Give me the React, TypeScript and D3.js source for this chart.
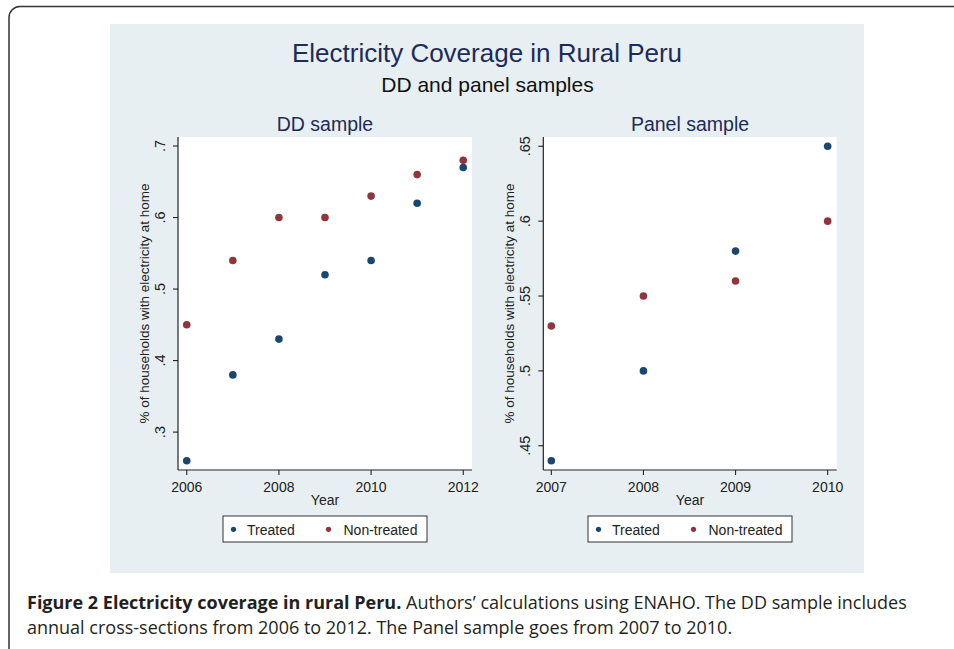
import React from 'react';
import * as d3 from 'd3';

// DD sample (annual cross-sections)
const ddYears = [2006, 2007, 2008, 2009, 2010, 2011, 2012];
const ddTreated = [0.26, 0.38, 0.43, 0.52, 0.54, 0.62, 0.67];
const ddNonTreated = [0.45, 0.54, 0.6, 0.6, 0.63, 0.66, 0.68];
const ddXTicks = [2006, 2008, 2010, 2012];
const ddYTicks = [0.3, 0.4, 0.5, 0.6, 0.7];
const ddYTickLabels = ['.3', '.4', '.5', '.6', '.7'];

// Panel sample
const panelYears = [2007, 2008, 2009, 2010];
const panelTreated = [0.44, 0.5, 0.58, 0.65];
const panelNonTreated = [0.53, 0.55, 0.56, 0.6];
const panelXTicks = [2007, 2008, 2009, 2010];
const panelYTicks = [0.45, 0.5, 0.55, 0.6, 0.65];
const panelYTickLabels = ['.45', '.5', '.55', '.6', '.65'];

const seriesNames = ['Treated', 'Non-treated'];
const seriesColors = ['#1a476f', '#90353b'];

const titleColor = '#1c2b5a';
const font = 'Arial, "Liberation Sans", sans-serif';

interface PanelProps {
  title: string;
  years: number[];
  treated: number[];
  nonTreated: number[];
  xTicks: number[];
  yTicks: number[];
  yTickLabels: string[];
  xDomain: [number, number];
  yDomain: [number, number];
  left: number;
  right: number;
}

const top = 137;
const bottom = 470;

const Panel: React.FC<PanelProps> = (p) => {
  const x = d3.scaleLinear().domain(p.xDomain).range([p.left, p.right]);
  const y = d3.scaleLinear().domain(p.yDomain).range([bottom, top]);
  const cx = (p.left + p.right) / 2;
  const cy = (top + bottom) / 2;
  const legLeft = cx - 102;

  return (
    <g fontFamily={font}>
      <text x={cx} y={131} textAnchor="middle" fontSize={19.5} fill={titleColor}>
        {p.title}
      </text>
      <rect x={p.left} y={top} width={p.right - p.left} height={bottom - top} fill="#fff" />

      {/* y axis */}
      <line x1={p.left} x2={p.left} y1={top} y2={bottom} stroke="#222" strokeWidth={1.2} />
      {p.yTicks.map((t, i) => (
        <g key={`yt-${i}`}>
          <line x1={p.left - 5} x2={p.left} y1={y(t)} y2={y(t)} stroke="#222" strokeWidth={1.1} />
          <text
            transform={`translate(${p.left - 13},${y(t)}) rotate(-90)`}
            textAnchor="middle"
            fontSize={14.5}
            fill="#222"
          >
            {p.yTickLabels[i]}
          </text>
        </g>
      ))}
      <text
        transform={`translate(${p.left - 29},${cy}) rotate(-90)`}
        textAnchor="middle"
        fontSize={13.5}
        fill="#222"
      >
        % of households with electricity at home
      </text>

      {/* x axis */}
      <line x1={p.left} x2={p.right} y1={bottom} y2={bottom} stroke="#222" strokeWidth={1.2} />
      {p.xTicks.map((t) => (
        <g key={`xt-${t}`}>
          <line x1={x(t)} x2={x(t)} y1={bottom} y2={bottom + 5} stroke="#222" strokeWidth={1.1} />
          <text x={x(t)} y={491.5} textAnchor="middle" fontSize={14} fill="#222">
            {t}
          </text>
        </g>
      ))}
      <text x={cx} y={505} textAnchor="middle" fontSize={14} fill="#222">
        Year
      </text>

      {/* points */}
      {[p.treated, p.nonTreated].map((vals, s) =>
        vals.map((v, i) => (
          <circle key={`pt-${s}-${i}`} cx={x(p.years[i])} cy={y(v)} r={3.8} fill={seriesColors[s]} />
        ))
      )}

      {/* legend */}
      <rect x={legLeft} y={516} width={204} height={26} fill="#fff" stroke="#333" strokeWidth={1} />
      {seriesNames.map((name, s) => (
        <g key={`lg-${s}`}>
          <circle cx={legLeft + 10.5 + s * 95} cy={529.3} r={2.6} fill={seriesColors[s]} />
          <text x={legLeft + 24 + s * 96.5} y={535} fontSize={14} fill="#222">
            {name}
          </text>
        </g>
      ))}
    </g>
  );
};

const App: React.FC = () => {
  return (
    <svg
      width={954}
      height={649}
      viewBox="0 0 954 649"
      style={{ position: 'absolute', left: 0, top: 0, background: '#fff' }}
    >
      {/* page frame */}
      <rect x={9} y={6.5} width={980} height={700} rx={11} fill="#fff" stroke="#333" strokeWidth={1.5} />

      {/* graph region */}
      <rect x={110} y={24} width={754} height={549} fill="#e8eff2" />
      <text x={487} y={61.5} textAnchor="middle" fontFamily={font} fontSize={26} fill={titleColor}>
        Electricity Coverage in Rural Peru
      </text>
      <text x={487.5} y={91.5} textAnchor="middle" fontFamily={font} fontSize={21} fill="#111">
        DD and panel samples
      </text>

      <Panel
        title="DD sample"
        years={ddYears}
        treated={ddTreated}
        nonTreated={ddNonTreated}
        xTicks={ddXTicks}
        yTicks={ddYTicks}
        yTickLabels={ddYTickLabels}
        xDomain={[2005.81, 2012.19]}
        yDomain={[0.247, 0.7126]}
        left={178}
        right={472}
      />
      <Panel
        title="Panel sample"
        years={panelYears}
        treated={panelTreated}
        nonTreated={panelNonTreated}
        xTicks={panelXTicks}
        yTicks={panelYTicks}
        yTickLabels={panelYTickLabels}
        xDomain={[2006.913, 2010.098]}
        yDomain={[0.4338, 0.6562]}
        left={543.3}
        right={836.7}
      />

      {/* caption */}
      <text fontFamily='"Open Sans", sans-serif' fontSize={18} fill="#231f20">
        <tspan x={27} y={609}>
          <tspan fontWeight="bold">Figure 2 Electricity coverage in rural Peru.</tspan>
          <tspan> Authors’ calculations using ENAHO. The DD sample includes</tspan>
        </tspan>
        <tspan x={27} y={634}>
          annual cross-sections from 2006 to 2012. The Panel sample goes from 2007 to 2010.
        </tspan>
      </text>
    </svg>
  );
};

export default App;
